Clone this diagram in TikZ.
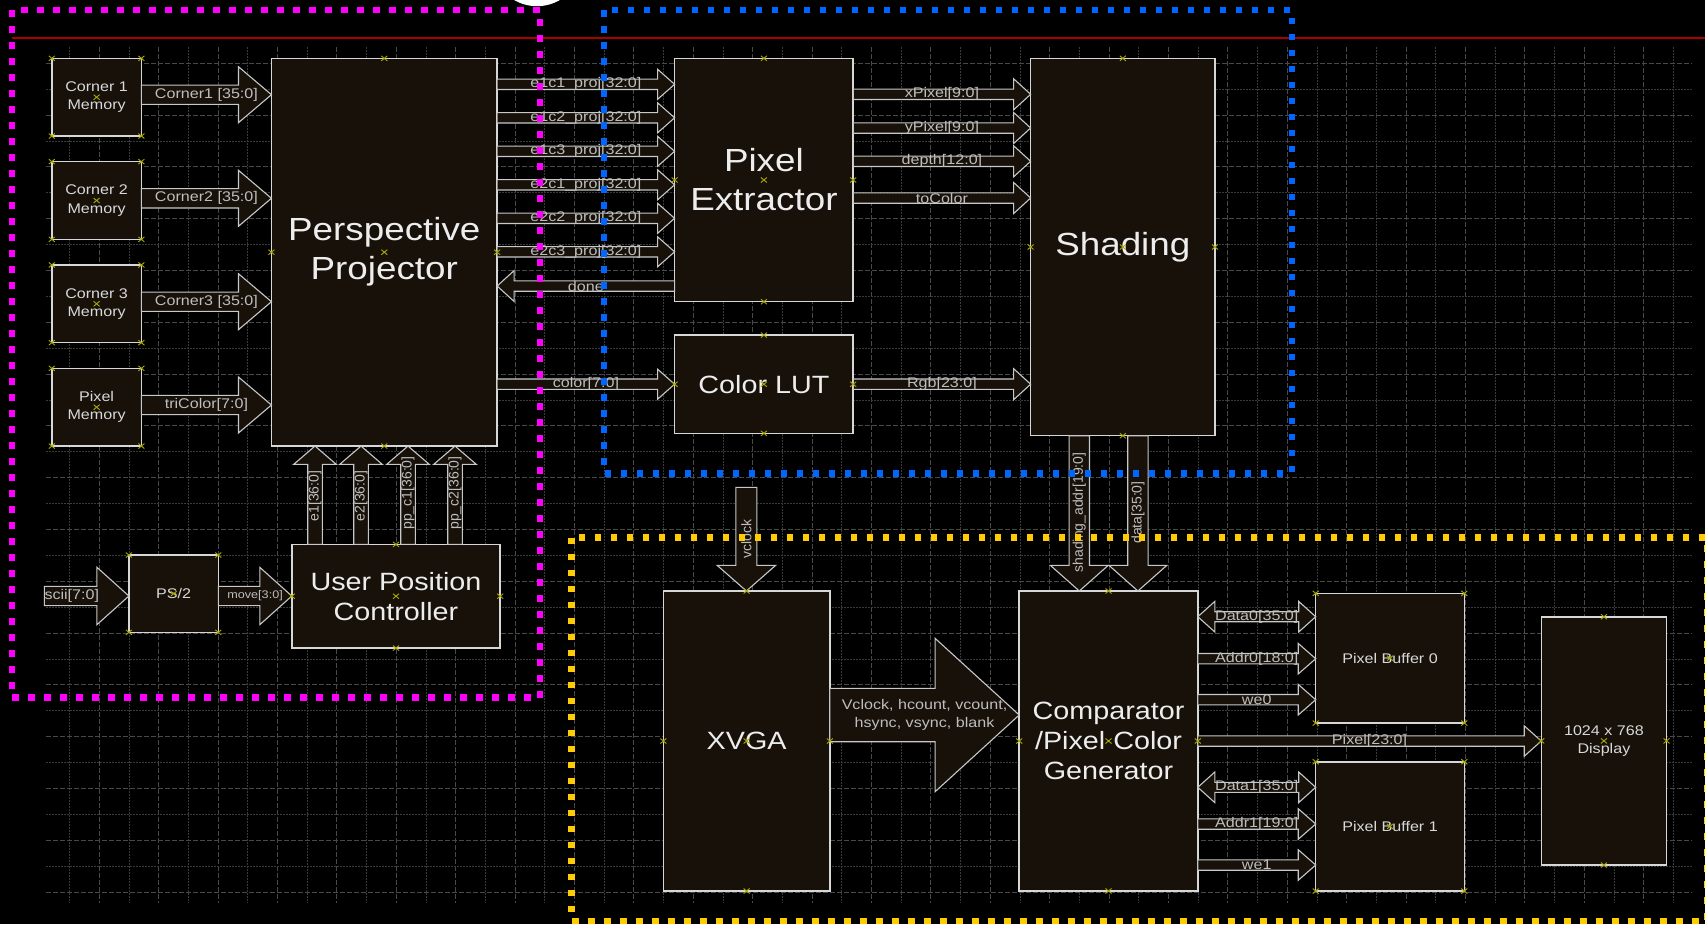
\documentclass[tikz,border=0pt]{standalone}
\usepackage{fontspec}
\setmainfont{Liberation Sans}[FakeStretch=1.15]
\newfontfamily\rotfont{Liberation Sans}
\usetikzlibrary{calc}
\definecolor{boxfill}{RGB}{23,17,10}
\definecolor{boxline}{RGB}{215,215,215}
\definecolor{arrline}{RGB}{200,200,200}
\definecolor{lblcol}{RGB}{190,190,190}
\definecolor{gridmajcol}{RGB}{72,72,72}
\definecolor{gridmincol}{RGB}{58,58,58}
\definecolor{mkcol}{RGB}{170,170,0}
\definecolor{redln}{RGB}{170,0,0}
\definecolor{magdot}{RGB}{255,0,255}
\definecolor{bluedot}{RGB}{0,102,255}
\definecolor{yeldot}{RGB}{255,204,0}

\tikzset{
 box/.style={draw=boxline, fill=boxfill, line width=1.5pt, inner sep=0pt, outer sep=0pt, align=center, text=white!93!black},
 bigtxt/.style={font=\fontsize{32}{39}\selectfont},
 midtxt/.style={font=\fontsize{25}{30}\selectfont},
 smtxt/.style={font=\fontsize{14}{18.3}\selectfont, text=white!85!black},
 blk/.style={draw=arrline, fill=boxfill, line width=1.1pt, line join=miter},
 lbl/.style={font=\fontsize{14}{17.6}\selectfont, text=lblcol, inner sep=0pt, align=center},
 rlbl/.style={font=\rotfont\fontsize{14}{17}\selectfont, text=lblcol, inner sep=0pt, rotate=90},
 mk/.style={draw=mkcol, line width=0.9pt},
 dotbox/.style={line width=6.5pt, dash pattern=on 6.5pt off 9.5pt},
 gridmaj/.style={draw=gridmajcol, line width=1pt, dash pattern=on 5pt off 2pt},
 gridmin/.style={draw=gridmincol, line width=1pt, dash pattern=on 1.5pt off 1.5pt},
}

% right-pointing block arrow: #1 start, #2 tip, #3 y, #4 shaft half, #5 head half, #6 head length, #7 label name, #8 label
\newcommand\arrR[8]{%
 \draw[blk] let \p1=(#1), \p2=(#2), \p3=(0,#3) in
  (\x1,\y3+#4pt) -- (\x2-#6pt,\y3+#4pt) -- (\x2-#6pt,\y3+#5pt) -- (\x2,\y3)
  -- (\x2-#6pt,\y3-#5pt) -- (\x2-#6pt,\y3-#4pt) -- (\x1,\y3-#4pt) -- cycle
  node[lbl] (#7) at ({(\x1+\x2)/2},\y3) {#8};}
\newcommand\arrL[8]{%
 \draw[blk] let \p1=(#1), \p2=(#2), \p3=(0,#3) in
  (\x1,\y3+#4pt) -- (\x2+#6pt,\y3+#4pt) -- (\x2+#6pt,\y3+#5pt) -- (\x2,\y3)
  -- (\x2+#6pt,\y3-#5pt) -- (\x2+#6pt,\y3-#4pt) -- (\x1,\y3-#4pt) -- cycle
  node[lbl] (#7) at ({(\x1+\x2)/2},\y3) {#8};}
\newcommand\arrLR[8]{%
 \draw[blk] let \p1=(#1), \p2=(#2), \p3=(0,#3) in
  (\x1,\y3) -- (\x1+#6pt,\y3+#5pt) -- (\x1+#6pt,\y3+#4pt) -- (\x2-#6pt,\y3+#4pt)
  -- (\x2-#6pt,\y3+#5pt) -- (\x2,\y3) -- (\x2-#6pt,\y3-#5pt) -- (\x2-#6pt,\y3-#4pt)
  -- (\x1+#6pt,\y3-#4pt) -- (\x1+#6pt,\y3-#5pt) -- cycle
  node[lbl] (#7) at ({(\x1+\x2)/2},\y3) {#8};}
% vertical block arrows: #1 start, #2 tip, #3 x, #4 shaft half, #5 head half, #6 head length, #7 name, #8 label y, #9 label
\newcommand\arrU[9]{%
 \draw[blk] let \p1=(#1), \p2=(#2), \p3=(#3,#8) in
  (\x3-#4pt,\y1) -- (\x3-#4pt,\y2-#6pt) -- (\x3-#5pt,\y2-#6pt) -- (\x3,\y2)
  -- (\x3+#5pt,\y2-#6pt) -- (\x3+#4pt,\y2-#6pt) -- (\x3+#4pt,\y1) -- cycle
  node[rlbl] (#7) at (\x3,\y3) {#9};}
\newcommand\arrD[9]{%
 \draw[blk] let \p1=(#1), \p2=(#2), \p3=(#3,#8) in
  (\x3-#4pt,\y1) -- (\x3-#4pt,\y2+#6pt) -- (\x3-#5pt,\y2+#6pt) -- (\x3,\y2)
  -- (\x3+#5pt,\y2+#6pt) -- (\x3+#4pt,\y2+#6pt) -- (\x3+#4pt,\y1) -- cycle
  node[rlbl] (#7) at (\x3,\y3) {#9};}
\newcommand\mks[1]{\foreach \a in {north,west,center,east,south}{\draw[mk] (#1.\a) +(-3,-2.5) -- +(3,2.5) (#1.\a) +(-3,2.5) -- +(3,-2.5);}}
\newcommand\mkc[1]{\foreach \a in {north west,north east,south west,south east,center}{\draw[mk] (#1.\a) +(-3,-2.5) -- +(3,2.5) (#1.\a) +(-3,2.5) -- +(3,-2.5);}}

\begin{document}
\begin{tikzpicture}[x=1pt,y=-1pt]
\useasboundingbox (0,0) rectangle (1705,924);
\clip (0,0) rectangle (1705,924);
\fill[black] (0,0) rectangle (1705,924);

% grid (alternating major / minor lines)
\foreach \k in {0,...,54}{
  \pgfmathtruncatemacro\odd{mod(\k,2)}
  \ifnum\odd=1 \draw[gridmaj] ({69.6+29.7*\k},47) -- ({69.6+29.7*\k},903);
  \else \draw[gridmin] ({69.6+29.7*\k},47) -- ({69.6+29.7*\k},903); \fi}
\foreach \k in {0,...,32}{
  \pgfmathtruncatemacro\odd{mod(\k,2)}
  \ifnum\odd=0 \draw[gridmaj] (46,{63.3+25.9*\k}) -- (1692,{63.3+25.9*\k});
  \else \draw[gridmin] (46,{63.3+25.9*\k}) -- (1692,{63.3+25.9*\k}); \fi}
\draw[redln, line width=2pt] (12,37.7) -- (1705,37.7);

% blocks
\node[box, smtxt, minimum width=89.6pt, minimum height=77.7pt] (c1) at (96.6,97.2) {Corner 1\\Memory};
\node[box, smtxt, minimum width=89.6pt, minimum height=77.7pt] (c2) at (96.6,200.5) {Corner 2\\Memory};
\node[box, smtxt, minimum width=89.6pt, minimum height=77.7pt] (c3) at (96.6,303.8) {Corner 3\\Memory};
\node[box, smtxt, minimum width=89.6pt, minimum height=77.7pt] (pm) at (96.6,407.2) {Pixel\\Memory};
\node[box, bigtxt, minimum width=225.7pt, minimum height=387.7pt] (pp) at (384.3,252.2) {Perspective\\Projector};
\node[box, bigtxt, minimum width=178.6pt, minimum height=243.4pt] (pe) at (763.9,180) {Pixel\\Extractor};
\node[box, midtxt, minimum width=178.6pt, minimum height=98.3pt] (lut) at (763.9,384.2) {Color LUT};
\node[box, bigtxt, minimum width=184.3pt, minimum height=377.4pt] (sh) at (1122.8,247) {Shading};
\node[box, smtxt, minimum width=89.4pt, minimum height=77.3pt] (ps2) at (173.6,593.7) {PS/2};
\node[box, midtxt, minimum width=208.4pt, minimum height=103.7pt] (upc) at (396,596.2) {User Position\\Controller};
\node[box, midtxt, minimum width=166.5pt, minimum height=300pt] (xvga) at (746.6,741) {XVGA};
\node[box, midtxt, minimum width=178.6pt, minimum height=300pt] (cmp) at (1108.5,741) {Comparator\\/Pixel Color\\Generator};
\node[box, smtxt, minimum width=148.6pt, minimum height=129.7pt] (pb0) at (1390,658.2) {Pixel Buffer 0};
\node[box, smtxt, minimum width=148.6pt, minimum height=129.3pt] (pb1) at (1390,826.4) {Pixel Buffer 1};
\node[box, smtxt, minimum width=125.3pt, minimum height=248.3pt] (disp) at (1603.9,740.9) {1024 x 768\\Display};

\coordinate (sciin) at (44.3,596);
\coordinate (vtop) at (746.4,487.3);

% connectors
\arrR{c1.east}{pp.west}{94.7}{9.65}{28}{33}{lc1}{Corner1 [35:0]}
\arrR{c2.east}{pp.west}{198.3}{9.65}{28}{33}{lc2}{Corner2 [35:0]}
\arrR{c3.east}{pp.west}{301.7}{9.65}{28}{33}{lc3}{Corner3 [35:0]}
\arrR{pm.east}{pp.west}{405}{9.65}{28}{33}{ltc}{triColor[7:0]}

\arrR{pp.east}{pe.west}{84.3}{5.2}{15}{17}{le11}{e1c1\_proj[32:0]}
\arrR{pp.east}{pe.west}{117.8}{5.2}{15}{17}{le12}{e1c2\_proj[32:0]}
\arrR{pp.east}{pe.west}{151.3}{5.2}{15}{17}{le13}{e1c3\_proj[32:0]}
\arrR{pp.east}{pe.west}{184.8}{5.2}{15}{17}{le21}{e2c1\_proj[32:0]}
\arrR{pp.east}{pe.west}{218.3}{5.2}{15}{17}{le22}{e2c2\_proj[32:0]}
\arrR{pp.east}{pe.west}{251.8}{5.2}{15}{17}{le23}{e2c3\_proj[32:0]}
\arrL{pe.west}{pp.east}{286}{5.2}{15.5}{17}{ldone}{done}
\arrR{pp.east}{lut.west}{384.2}{5.2}{15}{17}{lcol}{color[7:0]}

\arrR{pe.east}{sh.west}{94.3}{5.2}{15.5}{17}{lxp}{xPixel[9:0]}
\arrR{pe.east}{sh.west}{128}{5.2}{15.5}{17}{lyp}{yPixel[9:0]}
\arrR{pe.east}{sh.west}{161.3}{5.2}{15.5}{17}{ldep}{depth[12:0]}
\arrR{pe.east}{sh.west}{198}{5.2}{15.5}{17}{ltoc}{toColor}
\arrR{lut.east}{sh.west}{384.2}{5.2}{15.5}{17}{lrgb}{Rgb[23:0]}

\arrU{upc.north}{pp.south}{315}{7.3}{21.3}{18.3}{le1}{496}{e1[36:0]}
\arrU{upc.north}{pp.south}{361}{7.3}{21.3}{18.3}{le2}{496}{e2[36:0]}
\arrU{upc.north}{pp.south}{408}{7.3}{21.3}{18.3}{lpc1}{493}{pp\_c1[36:0]}
\arrU{upc.north}{pp.south}{455}{7.3}{21.3}{18.3}{lpc2}{493}{pp\_c2[36:0]}

\arrR{sciin}{ps2.west}{596}{9.65}{28.7}{32}{lsc}{}
\node[lbl, anchor=west] (lscii) at (44.3,596) {scii[7:0]};
\arrR{ps2.east}{upc.west}{596}{9.65}{28.7}{32}{lmv}{\fontsize{11}{13}\selectfont move[3:0]}

\arrD{vtop}{xvga.north}{746.4}{10.5}{29.3}{25.7}{lvc}{539}{vclock}
\arrD{sh.south}{cmp.north}{1079.3}{10.2}{29}{25.7}{lsa}{512.5}{shading\_addr[19:0]}
\arrD{sh.south}{cmp.north}{1137.9}{10.2}{29}{25.7}{ldat}{512.5}{data[35:0]}

\arrR{xvga.east}{cmp.west}{715}{26.7}{76.7}{84.1}{lsync}{Vclock, hcount, vcount,\\hsync, vsync, blank}

\arrLR{cmp.east}{pb0.west}{616.7}{5}{15.3}{17}{ld0}{Data0[35:0]}
\arrR{cmp.east}{pb0.west}{658.7}{5.2}{15.3}{17.5}{la0}{Addr0[18:0]}
\arrR{cmp.east}{pb0.west}{699.7}{5.2}{15.3}{17.5}{lw0}{we0}
\arrR{cmp.east}{disp.west}{741}{5.2}{15.2}{17}{lpix}{Pixel[23:0]}
\arrLR{cmp.east}{pb1.west}{787.3}{5}{15.3}{17}{ld1}{Data1[35:0]}
\arrR{cmp.east}{pb1.west}{824}{5.2}{15.3}{17.5}{la1}{Addr1[19:0]}
\arrR{cmp.east}{pb1.west}{865}{5.2}{15.3}{17.5}{lw1}{we1}

% anchor markers
\mkc{c1}\mkc{c2}\mkc{c3}\mkc{pm}\mkc{ps2}\mkc{pb0}\mkc{pb1}
\mks{pp}\mks{pe}\mks{lut}\mks{sh}\mks{upc}\mks{xvga}\mks{cmp}\mks{disp}

% dotted group frames
\draw[dotbox, magdot] (11.8,10) rectangle (540,697.7);
\draw[dotbox, bluedot] (604,10) rectangle (1291.8,473.3);
\draw[dotbox, yeldot] (571.6,537.7) rectangle (1707,921);

\fill[white] (537,-39) circle (45.2);
\end{tikzpicture}
\end{document}
